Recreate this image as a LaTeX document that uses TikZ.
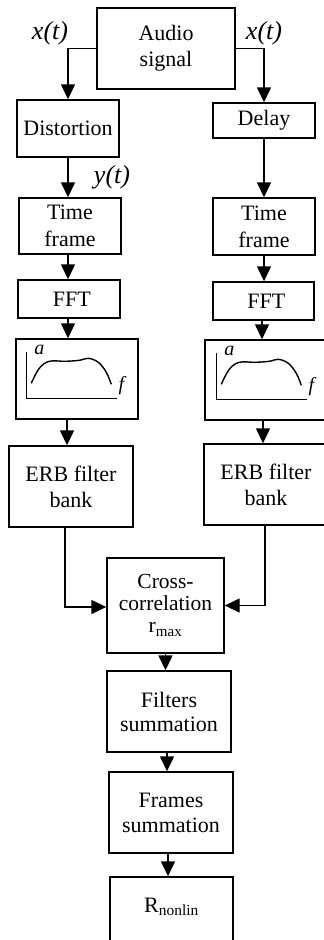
\documentclass[tikz,border=0pt]{standalone}
\usepackage{fontspec}
\setmainfont{Liberation Serif}
\usetikzlibrary{arrows.meta}
\begin{document}
\begin{tikzpicture}[x=1pt,y=-1pt,
  box/.style={draw,line width=1.4pt,inner sep=0pt,align=center,font=\fontsize{22}{26}\selectfont},
  arr/.style={line width=1.4pt,-{Triangle[length=15pt,width=14pt]}},
  lbl/.style={font=\fontsize{26}{28}\selectfont\itshape,inner sep=0pt},
  specplot/.pic={
    \draw[line width=1.3pt] (11,14) -- (11,60) -- (102,60);
    \draw[line width=1.4pt] plot[smooth,tension=0.6] coordinates {(16,45) (24,30) (34,23) (50,23) (64,22) (73,20) (83,24) (91,34) (96,46)};
    \node[font=\fontsize{20}{22}\selectfont\itshape,inner sep=0pt] at (24,12) {a};
    \node[font=\fontsize{20}{22}\selectfont\itshape,inner sep=0pt] at (106,47) {f};
  }]
\useasboundingbox (0,0) rectangle (324,940);
\clip (0,0) rectangle (324,940);

\node[box,minimum width=138pt,minimum height=81pt] (audio) at (166,48.5) {Audio\\signal};
\node[box,minimum width=102pt,minimum height=57pt] (dist) at (68,128.5) {Distortion};
\node[box,minimum width=102pt,minimum height=35pt] (delay) at (264,120.5) {Delay};
\node[box,minimum width=102pt,minimum height=56pt,font=\fontsize{22}{27}\selectfont] (tfL) at (70,226) {Time\\frame};
\node[box,minimum width=102pt,minimum height=57pt,font=\fontsize{22}{27}\selectfont] (tfR) at (264,226.5) {Time\\frame};
\node[box,minimum width=102pt,minimum height=38pt] (fftL) at (69,299) {~FFT};
\node[box,minimum width=101pt,minimum height=38pt] (fftR) at (263.5,301) {~FFT};
\node[box,minimum width=122pt,minimum height=80pt] (specL) at (77,379) {};
\node[box,minimum width=122pt,minimum height=80pt] (specR) at (266,380) {};
\pic at (specL.north west) {specplot};
\pic at ([xshift=1pt]specR.north west) {specplot};
\node[box,minimum width=124pt,minimum height=81pt] (erbL) at (71,486.5) {ERB filter\\bank};
\node[box,minimum width=124pt,minimum height=81pt] (erbR) at (266,484.5) {ERB filter\\bank};
\node[box,minimum width=117pt,minimum height=95pt,font=\fontsize{21.5}{22}\selectfont] (cross) at (165.5,605.5) {Cross-\\correlation\\r\textsubscript{max}};
\node[box,minimum width=124pt,minimum height=81pt,font=\fontsize{22}{24}\selectfont] (filt) at (169,711.5) {Filters\\summation};
\node[box,minimum width=124pt,minimum height=81pt,font=\fontsize{22}{25}\selectfont] (frames) at (171,812.5) {Frames\\summation};
\node[box,minimum width=123pt,minimum height=81pt,text height=15pt,text depth=26pt] (rnl) at (171.5,917.5) {R\textsubscript{nonlin}};

\node[lbl] (xl) at (50,33) {x(t)};
\node[lbl] (xr) at (264,33) {x(t)};
\node[lbl] (yt) at (112,177) {y(t)};

\draw[arr] (audio.west) -| (dist.north);
\draw[arr] (audio.east) -| (delay.north);
\draw[arr] (dist.south) -- (dist.south |- tfL.north);
\draw[arr] (delay.south) -- (delay.south |- tfR.north);
\draw[arr] ([xshift=-2pt]tfL.south) -- ([xshift=-2pt]tfL.south |- fftL.north);
\draw[arr] (tfR.south) -- (tfR.south |- fftR.north);
\draw[arr] ([xshift=-1pt]fftL.south) -- ([xshift=-1pt]fftL.south |- specL.north);
\draw[arr] ([xshift=-1.5pt]fftR.south) -- ([xshift=-1.5pt]fftR.south |- specR.north);
\draw[arr] ([xshift=-10pt]specL.south) -- ([xshift=-10pt]specL.south |- erbL.north);
\draw[arr] ([xshift=-3pt]specR.south) -- ([xshift=-3pt]specR.south |- erbR.north);
\draw[arr] ([xshift=-6pt]erbL.south) |- ([yshift=-1.5pt]cross.west);
\draw[arr] ([xshift=-1pt]erbR.south) |- (cross.east);
\draw[arr] (cross.south) -- (cross.south |- filt.north);
\draw[arr] ([xshift=-2pt]filt.south) -- ([xshift=-2pt]filt.south |- frames.north);
\draw[arr] ([xshift=-3pt]frames.south) -- ([xshift=-3pt]frames.south |- rnl.north);
\end{tikzpicture}
\end{document}
